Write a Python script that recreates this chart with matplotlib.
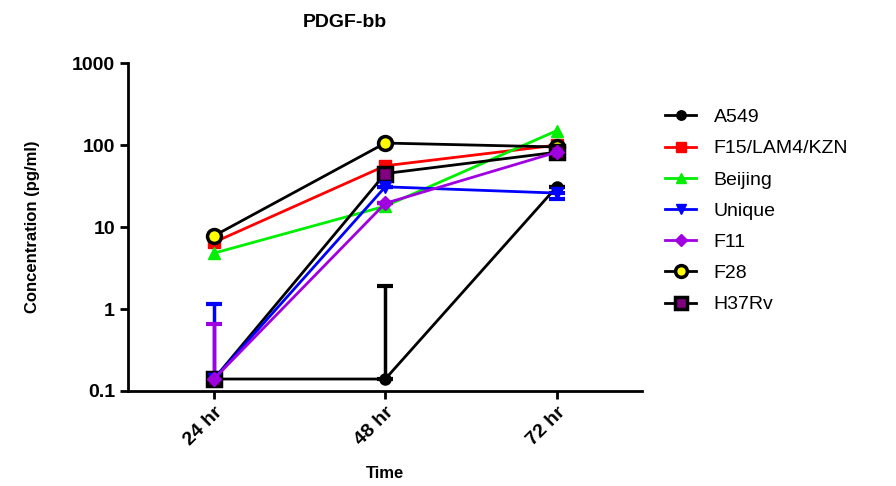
import matplotlib.pyplot as plt
from matplotlib.lines import Line2D

plt.rcParams['font.family'] = ['Liberation Sans', 'DejaVu Sans']

times = ['24 hr', '48 hr', '72 hr']
a549 = [0.14, 0.14, 31]
f15 = [6.5, 56, 100]
beijing = [4.8, 18, 150]
unique = [0.14, 31, 26]
f11 = [0.14, 19.5, 82]
f28 = [7.8, 106, 95]
h37rv = [0.14, 45, 82]

# one-sided error bars (lower, upper)
a549_err = [[0, 0, 0], [0, 1.76, 0]]
unique_err = [[0, 0, 4], [1.0, 0, 0]]
f11_err = [[0, 0, 0], [0.51, 0, 0]]

x = [1, 2, 3]

styles = [
    ('A549', a549, a549_err, dict(color='black', marker='o', ms=8)),
    ('F15/LAM4/KZN', f15, None, dict(color='#ff0000', marker='s', ms=8)),
    ('Beijing', beijing, None, dict(color='#00ee00', marker='^', ms=9)),
    ('Unique', unique, unique_err, dict(color='#0000ff', marker='v', ms=9)),
    ('F11', f11, f11_err, dict(color='#a000e0', marker='D', ms=7)),
    ('F28', f28, None, dict(color='black', marker='o', ms=10, mfc='#ffff00',
                            mec='black', mew=2.5)),
    ('H37Rv', h37rv, None, dict(color='black', marker='s', ms=10, mfc='#800080',
                                mec='black', mew=2.5)),
]

fig = plt.figure(figsize=(8.96, 4.86), dpi=100)
ax = fig.add_axes([0.143, 0.1955, 0.574, 0.6745])

handles = []
for name, vals, err, st in styles:
    if err is not None:
        ax.errorbar(x, vals, yerr=err, lw=2, elinewidth=2.5, capsize=6,
                    capthick=3, **st)
    else:
        ax.plot(x, vals, lw=2, **st)
    handles.append(Line2D([], [], lw=2, label=name, **st))

ax.set_yscale('log')
ax.set_ylim(0.1, 1000)
ax.set_xlim(0.5, 3.5)
ax.set_yticks([0.1, 1, 10, 100, 1000])
ax.set_yticklabels(['0.1', '1', '10', '100', '1000'])
ax.minorticks_off()
ax.set_xticks(x)
ax.set_xticklabels(times, rotation=45, ha='right', rotation_mode='anchor')
for lab in ax.get_xticklabels() + ax.get_yticklabels():
    lab.set_fontweight('bold')
    lab.set_fontsize(14)

ax.spines['top'].set_visible(False)
ax.spines['right'].set_visible(False)
ax.spines['left'].set_linewidth(2)
ax.spines['bottom'].set_linewidth(2)
ax.tick_params(width=2, length=6)

ax.set_xlabel('Time', fontsize=12, fontweight='bold', labelpad=12)
ax.set_ylabel('Concentration (pg/ml)', fontsize=12, fontweight='bold', labelpad=23)
fig.text(0.385, 0.945, 'PDGF-bb', fontsize=14, fontweight='bold', ha='center')

ax.legend(handles=handles, loc='upper left', bbox_to_anchor=(1.01, 0.915),
          frameon=False, fontsize=14, handlelength=1.6, handletextpad=0.9,
          labelspacing=0.7, markerscale=0.85)

fig.savefig('out.png', dpi=100)
